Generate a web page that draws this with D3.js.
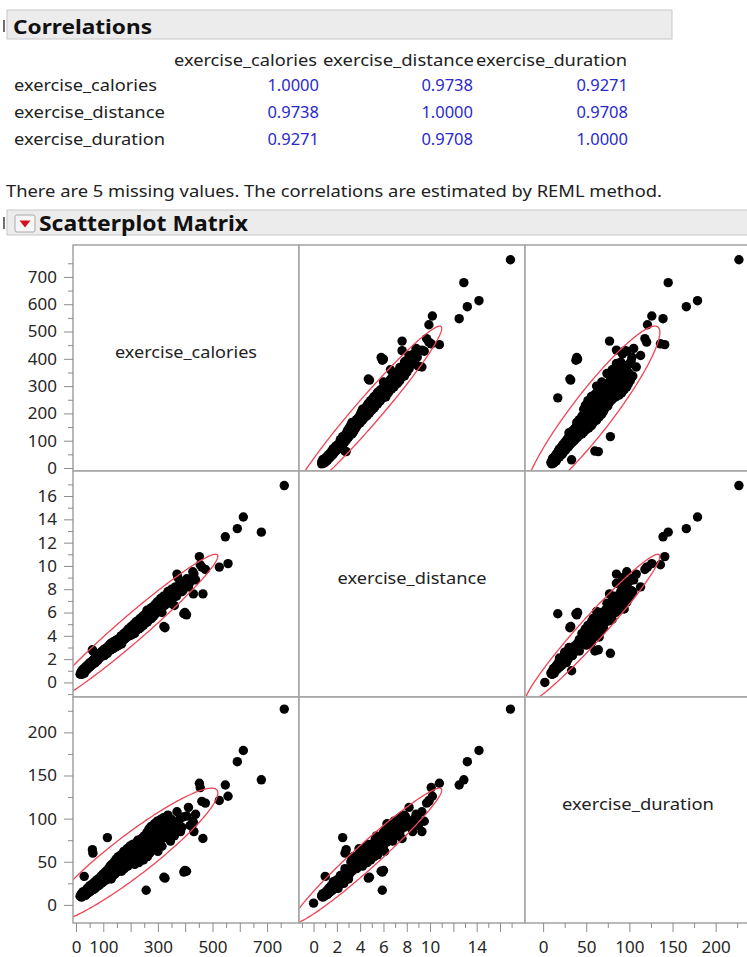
<!DOCTYPE html>
<html>
<head>
<meta charset="utf-8">
<script src="https://cdnjs.cloudflare.com/ajax/libs/d3/7.8.5/d3.min.js"></script>
<style>
body{margin:0;background:#fff;}
svg{display:block;font-family:"Noto Sans",sans-serif;}
</style>
</head>
<body>
<div id="chart"></div>
<script>
var varNames = ["exercise_calories","exercise_distance","exercise_duration"];
var corrValues = [[1.0000,0.9738,0.9271],[0.9738,1.0000,0.9708],[0.9271,0.9708,1.0000]];
var missingNote = "There are 5 missing values. The correlations are estimated by REML method.";

// one entry per exercise record (same index in the three lists), null = missing
var calories = [15,18,20,22,23,25,26,28,29,30,
  31,32,34,35,37,38,40,41,43,44,
  46,47,49,50,52,53,55,57,58,60,
  62,61,63,65,66,68,70,71,73,75,
  76,78,80,82,84,86,88,90,92,94,
  96,98,100,102,104,107,109,111,113,115,
  116,118,120,122,125,127,129,131,134,136,
  138,140,143,145,147,150,152,155,157,160,
  162,165,167,170,172,175,177,180,182,185,
  187,190,192,195,197,200,202,205,207,210,
  212,215,217,220,222,225,227,230,232,235,
  237,240,242,245,247,250,252,255,257,258,
  260,262,265,267,270,272,275,277,280,282,
  285,287,290,292,295,297,300,302,305,308,
  310,312,315,318,320,322,325,326,328,331,
  334,337,340,343,346,350,354,357,360,364,
  368,370,373,377,381,383,388,392,395,399,
  405,406,412,418,428,430,432,438,452,455,
  461,465,474,525,557,547,591,613,679,763,
  null,null,120,200,260];
var distance = [0.7,0.9,0.8,1.0,0.7,1.1,0.9,1.0,1.2,1.0,
  0.8,1.1,1.3,1.0,1.2,1.4,1.1,1.3,1.5,1.2,
  1.4,1.6,1.3,1.5,1.7,1.4,1.6,1.8,1.5,2.8,
  2.7,1.7,1.9,1.6,2.0,1.8,2.1,1.7,2.2,1.9,
  2.0,2.3,1.9,2.2,2.4,2.1,2.5,2.2,2.6,2.3,
  2.7,2.4,2.6,2.8,2.3,2.9,2.5,2.7,3.0,2.5,
  2.6,3.1,2.7,2.9,3.3,2.8,3.0,3.4,3.1,2.9,
  3.5,3.2,3.0,3.6,3.3,3.1,3.7,3.4,3.2,3.8,
  3.5,4.0,3.3,3.9,3.6,4.2,3.7,4.1,3.8,4.4,
  3.9,4.2,4.6,4.0,4.5,4.3,4.8,4.1,4.7,4.4,
  5.0,4.2,4.8,5.2,4.5,4.9,5.3,4.6,5.1,5.5,
  4.7,5.3,5.0,5.7,4.9,5.4,5.8,5.1,5.9,5.6,
  6.0,5.2,5.8,6.2,5.4,6.0,6.4,5.5,6.1,6.5,
  5.7,6.3,6.7,5.9,6.5,6.9,6.1,6.6,7.0,6.3,
  7.2,6.8,6.0,7.1,7.4,4.8,6.6,4.7,7.3,6.9,
  7.6,7.8,7.0,7.5,6.8,8.0,7.3,7.7,6.6,8.2,
  7.4,9.3,9.0,8.1,8.7,8.5,7.8,7.9,5.9,6.0,
  5.8,8.9,8.2,8.6,9.5,7.6,9.3,8.8,10.8,10.1,
  9.9,7.6,9.7,9.9,10.2,12.5,13.2,14.2,12.9,16.9,
  0.0,3.6,null,null,6.2];
var duration = [10,12,9,13,11,15,10,14,12,33,
  13,16,14,11,17,15,13,19,16,14,
  20,17,15,22,18,16,23,20,17,64,
  60,24,21,18,26,22,19,27,24,21,
  29,25,22,30,27,23,32,28,25,34,
  30,26,36,31,28,38,33,29,40,78,
  31,36,42,33,45,37,30,47,39,34,
  44,50,36,42,53,38,47,56,41,50,
  44,58,39,54,46,62,42,51,57,48,
  65,45,59,52,68,48,62,55,70,50,
  64,47,58,72,53,61,75,49,66,58,
  55,77,62,70,52,80,65,58,17,74,
  84,56,70,88,60,77,91,63,72,85,
  66,94,80,70,88,97,62,76,90,73,
  99,82,68,93,101,32,78,31,96,86,
  103,104,80,95,74,99,88,94,80,92,
  84,108,92,98,100,85,90,102,38,40,
  39,103,113,92,97,95,85,105,141,136,
  120,77,118,121,126,139,166,179,145,227,
  2,45,40,55,null];

var means = [204, 4.59, 57];
var sds = [129, 2.62, 32];
var domains = [[-11,817],[-1.25,18.15],[-21,241]];
var majorTicks = [[0,100,200,300,400,500,600,700],[0,2,4,6,8,10,12,14,16],[0,50,100,150,200]];
var minorTicks = [[50,150,250,350,450,550,650,750],[-1,1,3,5,7,9,11,13,15,17],[25,75,125,175,225]];
var xLabels = [[0,100,300,500,700],[0,2,4,6,8,10,14],[0,50,100,150,200]];
var yLabels = [[0,100,200,300,400,500,600,700],[0,2,4,6,8,10,12,14,16],[0,50,100,150,200]];

var width = 747, height = 957;
var left = 73, top0 = 245, cw = 226;

var svg = d3.select("#chart").append("svg")
    .attr("width", width)
    .attr("height", height);

// Correlations report
svg.append("rect").attr("x",7).attr("y",10).attr("width",665).attr("height",29)
    .attr("fill","#ececec").attr("stroke","#c8c8c8");
svg.append("rect").attr("x",3).attr("y",20).attr("width",2).attr("height",12).attr("fill","#707070");
svg.append("text").attr("x",13).attr("y",34)
    .attr("font-size",20).attr("font-weight","bold").attr("fill","#111")
    .attr("textLength",139).attr("lengthAdjust","spacingAndGlyphs")
    .text("Correlations");

var colX = [174,323,476];
var nameW = [143,151,151];
var valRight = [319,473,628];
var rowY = [91,118,145];
var fmt = d3.format(".4f");

varNames.forEach(function(name,i){
    svg.append("text").attr("x",colX[i]).attr("y",66)
        .attr("font-size",16).attr("fill","#222")
        .attr("textLength",nameW[i]).attr("lengthAdjust","spacingAndGlyphs")
        .text(name);
    svg.append("text").attr("x",14).attr("y",rowY[i])
        .attr("font-size",16).attr("fill","#222")
        .attr("textLength",nameW[i]).attr("lengthAdjust","spacingAndGlyphs")
        .text(name);
    corrValues[i].forEach(function(v,j){
        svg.append("text").attr("x",valRight[j]).attr("y",rowY[i])
            .attr("font-size",16.5).attr("fill","#2a2acc")
            .attr("text-anchor","end")
            .text(fmt(v));
    });
});

svg.append("text").attr("x",6).attr("y",197)
    .attr("font-size",16).attr("fill","#222")
    .attr("textLength",656).attr("lengthAdjust","spacingAndGlyphs")
    .text(missingNote);

// Scatterplot Matrix report
svg.append("rect").attr("x",7).attr("y",210).attr("width",745).attr("height",25)
    .attr("fill","#ececec").attr("stroke","#c8c8c8");
svg.append("rect").attr("x",3).attr("y",217).attr("width",2).attr("height",12).attr("fill","#707070");
svg.append("rect").attr("x",15).attr("y",215).attr("width",20).attr("height",17).attr("rx",2)
    .attr("fill","#f6f6f6").attr("stroke","#a8a8a8");
svg.append("path").attr("d","M19.5,220.5L30.5,220.5L25,227.5Z").attr("fill","#d4111e");
svg.append("text").attr("x",39).attr("y",231)
    .attr("font-size",21).attr("font-weight","bold").attr("fill","#111")
    .attr("textLength",209).attr("lengthAdjust","spacingAndGlyphs")
    .text("Scatterplot Matrix");

var xScales = domains.map(function(d,i){
    return d3.scaleLinear().domain(d).range([left+i*cw, left+(i+1)*cw]);
});
var yScales = domains.map(function(d,i){
    return d3.scaleLinear().domain(d).range([top0+(i+1)*cw, top0+i*cw]);
});

var records = calories.map(function(d,i){ return [calories[i], distance[i], duration[i]]; });
var diagW = [142,149,152];

var c95 = Math.sqrt(5.991);
var angles = d3.range(0, 2*Math.PI + 0.001, Math.PI/120);

for(var ri=0; ri<3; ri++){
    for(var ci=0; ci<3; ci++){
        var x0 = left + ci*cw, y0 = top0 + ri*cw;
        var cell = svg.append("g");
        cell.append("rect").attr("x",x0).attr("y",y0).attr("width",cw).attr("height",cw)
            .attr("fill","#fff");
        if(ri==ci){
            cell.append("text").attr("x",x0+cw/2).attr("y",y0+cw/2)
                .attr("text-anchor","middle").attr("font-size",17).attr("fill","#222")
                .attr("textLength",diagW[ri]).attr("lengthAdjust","spacingAndGlyphs")
                .text(varNames[ri]);
        } else {
            var clipId = "clip"+ri+ci;
            svg.append("clipPath").attr("id",clipId)
                .append("rect").attr("x",x0).attr("y",y0).attr("width",cw).attr("height",cw);
            var g = cell.append("g").attr("clip-path","url(#"+clipId+")");
            var xs = xScales[ci], ys = yScales[ri];
            var pts = records.filter(function(d){ return d[ci]!=null && d[ri]!=null; });
            g.selectAll("circle").data(pts).enter().append("circle")
                .attr("cx",function(d){ return xs(d[ci]); })
                .attr("cy",function(d){ return ys(d[ri]); })
                .attr("r",4.7)
                .attr("fill","#000");
            // 95% density ellipse
            var r = corrValues[ri][ci];
            var mx = means[ci], my = means[ri], sx = sds[ci], sy = sds[ri];
            var line = d3.line()
                .x(function(t){ return xs(mx + c95*sx*Math.cos(t)); })
                .y(function(t){ return ys(my + c95*sy*(r*Math.cos(t) + Math.sqrt(1-r*r)*Math.sin(t))); });
            g.append("path").attr("d",line(angles))
                .attr("fill","none").attr("stroke","#ee4455").attr("stroke-width",1.3);
        }
        cell.append("rect").attr("x",x0).attr("y",y0).attr("width",cw).attr("height",cw)
            .attr("fill","none").attr("stroke","#a3a3a3").attr("stroke-width",1.5);
    }
}

// axes
function styleAxis(g){
    g.select(".domain").remove();
    g.selectAll("line").attr("stroke","#8c8c8c");
    g.selectAll("text").attr("font-size",17).attr("fill","#262626").attr("font-family","Noto Sans, sans-serif");
}

for(var k=0; k<3; k++){
    (function(k){
        var yl = yLabels[k], xl = xLabels[k];
        svg.append("g").attr("transform","translate("+left+",0)")
            .call(d3.axisLeft(yScales[k]).tickValues(minorTicks[k]).tickSize(5).tickFormat(""))
            .call(styleAxis);
        svg.append("g").attr("transform","translate("+left+",0)")
            .call(d3.axisLeft(yScales[k]).tickValues(majorTicks[k]).tickSize(9).tickPadding(7)
                .tickFormat(function(v){ return yl.indexOf(v)>=0 ? v : ""; }))
            .call(styleAxis);
        svg.append("g").attr("transform","translate(0,"+(top0+3*cw)+")")
            .call(d3.axisBottom(xScales[k]).tickValues(minorTicks[k]).tickSize(5).tickFormat(""))
            .call(styleAxis);
        svg.append("g").attr("transform","translate(0,"+(top0+3*cw)+")")
            .call(d3.axisBottom(xScales[k]).tickValues(majorTicks[k]).tickSize(9).tickPadding(9)
                .tickFormat(function(v){ return xl.indexOf(v)>=0 ? v : ""; }))
            .call(styleAxis);
    })(k);
}
</script>
</body>
</html>
